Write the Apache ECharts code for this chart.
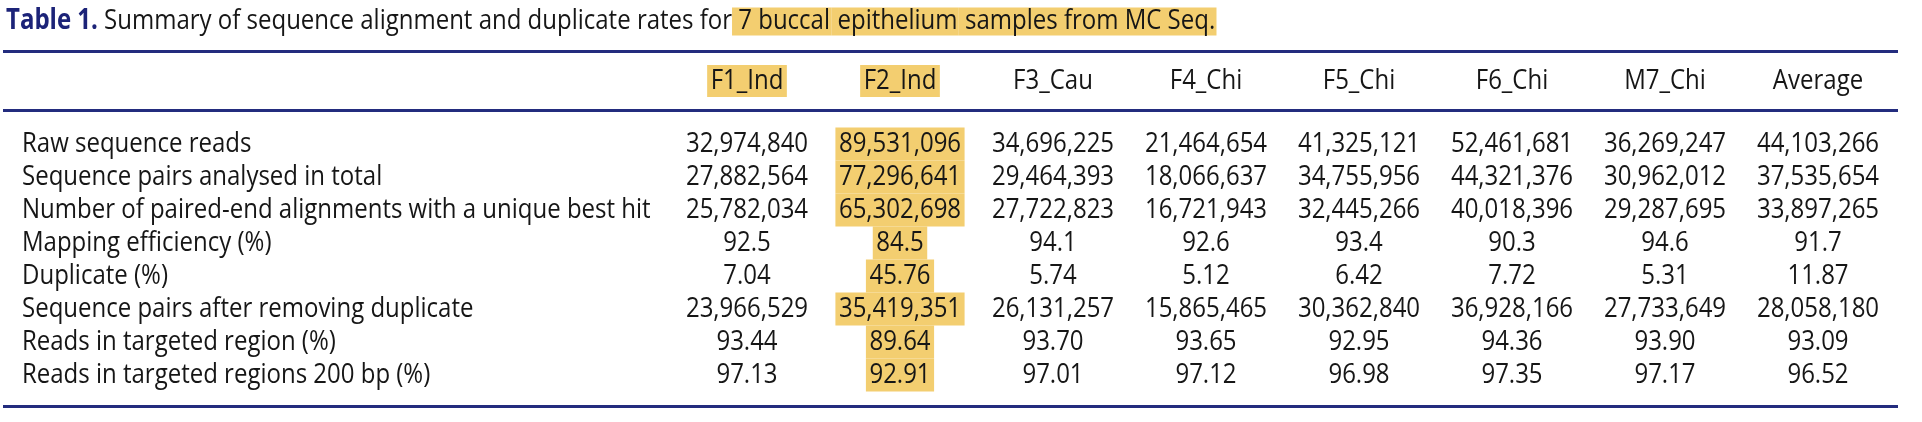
<!DOCTYPE html>
<html>
<head>
<meta charset="utf-8">
<script src="https://cdn.jsdelivr.net/npm/echarts@6/dist/echarts.min.js"></script>
<style>
html,body{margin:0;padding:0;background:#ffffff;}
#main{width:1922px;height:422px;}
</style>
</head>
<body>
<div id="main"></div>
<script>
// ---- data ----
const samples = ['F1_Ind', 'F2_Ind', 'F3_Cau', 'F4_Chi', 'F5_Chi', 'F6_Chi', 'M7_Chi', 'Average'];
const highlightedHeaders = ['F1_Ind', 'F2_Ind'];
const highlightedColumn = 'F2_Ind';
const rowLabels = [
  'Raw sequence reads',
  'Sequence pairs analysed in total',
  'Number of paired-end alignments with a unique best hit',
  'Mapping efficiency (%)',
  'Duplicate (%)',
  'Sequence pairs after removing duplicate',
  'Reads in targeted region (%)',
  'Reads in targeted regions 200 bp (%)'
];
const rawReads        = [32974840, 89531096, 34696225, 21464654, 41325121, 52461681, 36269247, 44103266];
const pairsAnalysed   = [27882564, 77296641, 29464393, 18066637, 34755956, 44321376, 30962012, 37535654];
const uniqueBestHit   = [25782034, 65302698, 27722823, 16721943, 32445266, 40018396, 29287695, 33897265];
const mappingEff      = [92.5, 84.5, 94.1, 92.6, 93.4, 90.3, 94.6, 91.7];
const duplicatePct    = [7.04, 45.76, 5.74, 5.12, 6.42, 7.72, 5.31, 11.87];
const pairsAfterDedup = [23966529, 35419351, 26131257, 15865465, 30362840, 36928166, 27733649, 28058180];
const targetedRegion  = [93.44, 89.64, 93.70, 93.65, 92.95, 94.36, 93.90, 93.09];
const targeted200bp   = [97.13, 92.91, 97.01, 97.12, 96.98, 97.35, 97.17, 96.52];
const rowDecimals     = [0, 0, 0, 1, 2, 0, 2, 2];
const titleLead = 'Table 1.';
const titleText = 'Summary of sequence alignment and duplicate rates for';
const titleMarked = ['7 buccal', 'epithelium', 'samples from MC Seq.'];

// ---- styles ----
const FONT = '"Open Sans", "Noto Sans", "DejaVu Sans", sans-serif';
const TEXT = '#161616';
const HL = '#F3CE70';
const NAVY = '#1c2378';
const RULE = '#232c7e';
const FS = 28;        // font size
const SX = 0.857;     // horizontal condensation
const ROW_H = 33;

const rows = [rawReads, pairsAnalysed, uniqueBestHit, mappingEff, duplicatePct, pairsAfterDedup, targetedRegion, targeted200bp];

function fmt(v, r) {
  const d = rowDecimals[r];
  if (d === 0) return String(Math.round(v)).replace(/\B(?=(\d{3})+(?!\d))/g, ',');
  return v.toFixed(d);
}

const cellData = [];
rows.forEach(function (vals, r) {
  vals.forEach(function (v, c) { cellData.push([c, r, v]); });
});
const rowLabelData = rowLabels.map(function (_, r) { return [0, r]; });
const headerData = samples.map(function (_, c) { return [c, 0]; });

function textEl(x, y, text, align, hl, boxH) {
  return {
    type: 'text',
    x: x, y: y,
    scaleX: SX, scaleY: 1,
    silent: true,
    style: {
      text: text,
      x: 0, y: 0,
      align: align,
      verticalAlign: 'middle',
      fontFamily: FONT,
      fontSize: FS,
      fill: TEXT,
      lineHeight: boxH,
      backgroundColor: hl ? HL : null,
      padding: hl ? [0, 3.5 / SX] : 0
    }
  };
}

const chart = echarts.init(document.getElementById('main'), null, { renderer: 'canvas' });

const option = {
  backgroundColor: '#ffffff',
  animation: false,
  grid: {
    left: 670.5, right: 27.5, top: 127.5, bottom: 30.5,
    outerBoundsMode: 'none', containLabel: false
  },
  xAxis: {
    type: 'category',
    data: samples,
    position: 'top',
    axisLine: { show: false },
    axisTick: { show: false },
    splitLine: { show: false },
    axisLabel: { show: false }
  },
  yAxis: {
    type: 'category',
    data: rowLabels,
    inverse: true,
    axisLine: { show: false },
    axisTick: { show: false },
    splitLine: { show: false },
    axisLabel: { show: false }
  },
  series: [
    {
      // table cells
      type: 'custom',
      data: cellData,
      silent: true,
      clip: false,
      renderItem: function (params, api) {
        const c = api.value(0), r = api.value(1), v = api.value(2);
        const p = api.coord([c, r]);
        return textEl(p[0], p[1], fmt(v, r), 'center', samples[c] === highlightedColumn, ROW_H);
      }
    },
    {
      // row labels (stub column)
      type: 'custom',
      data: rowLabelData,
      silent: true,
      clip: false,
      renderItem: function (params, api) {
        const r = api.value(1);
        const p = api.coord([0, r]);
        return textEl(22, p[1], rowLabels[r], 'left', false, ROW_H);
      }
    },
    {
      // column headers
      type: 'custom',
      data: headerData,
      silent: true,
      clip: false,
      renderItem: function (params, api) {
        const c = api.value(0);
        const p = api.coord([c, 0]);
        return textEl(p[0], params.coordSys.y - 46.5, samples[c], 'center', highlightedHeaders.indexOf(samples[c]) >= 0, 32);
      }
    }
  ],
  graphic: [
    {
      type: 'text',
      x: 6, y: 21.5,
      scaleX: SX, scaleY: 1,
      silent: true,
      style: {
        text: '{tb|' + titleLead + '} {n|' + titleText + '}' + titleMarked.map(function (t) { return '{hl| ' + t + '}'; }).join(''),
        verticalAlign: 'middle',
        align: 'left',
        fontFamily: FONT, fontSize: FS, fill: TEXT, lineHeight: 33,
        rich: {
          tb: { fontFamily: FONT, fontSize: FS, fill: NAVY, fontWeight: 'bold', lineHeight: 33 },
          n:  { fontFamily: FONT, fontSize: FS, fill: TEXT, lineHeight: 33 },
          hl: { fontFamily: FONT, fontSize: FS, fill: TEXT, lineHeight: 33, backgroundColor: HL, padding: [0, 1.5, 0, 0] }
        }
      }
    },
    { type: 'line', silent: true, shape: { x1: 3, y1: 51.5, x2: 1898, y2: 51.5 }, style: { stroke: RULE, lineWidth: 3 } },
    { type: 'line', silent: true, shape: { x1: 3, y1: 110.5, x2: 1898, y2: 110.5 }, style: { stroke: RULE, lineWidth: 3 } },
    { type: 'line', silent: true, shape: { x1: 3, y1: 406.5, x2: 1898, y2: 406.5 }, style: { stroke: RULE, lineWidth: 3 } }
  ]
};

chart.setOption(option);
</script>
</body>
</html>
